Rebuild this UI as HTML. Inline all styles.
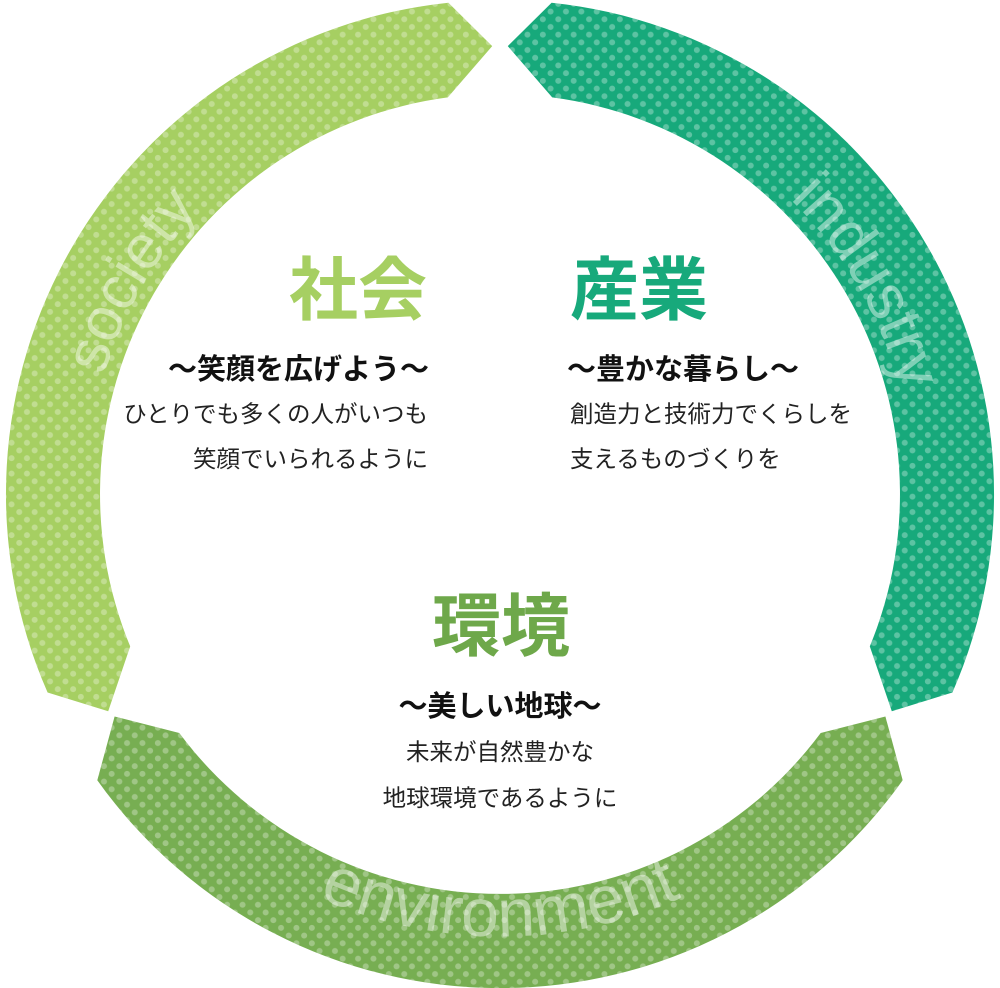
<!DOCTYPE html>
<html><head><meta charset="utf-8"><style>
html,body{margin:0;padding:0;background:#fff;}
svg{display:block;}
</style></head><body>
<svg width="1000" height="988" viewBox="0 0 1000 988" xmlns="http://www.w3.org/2000/svg">
<defs>
<pattern id="dots" width="15.4" height="15.4" patternUnits="userSpaceOnUse">
<circle cx="3.85" cy="3.85" r="3" fill="#fff" fill-opacity="0.3"/>
<circle cx="11.55" cy="11.55" r="3" fill="#fff" fill-opacity="0.3"/>
</pattern>
<path id="ps" d="M88.3,566.6 A412,412 0 0 1 357.0,101.2" transform="translate(500 494) scale(0.9856) translate(-500 -494)"/>
<path id="pi" d="M643,101.2 A412,412 0 0 1 911.7,566.6" transform="translate(500 494) scale(0.9856) translate(-500 -494)"/>
<path id="pe" d="M120.7,713 A438,438 0 0 0 879.3,713" transform="translate(500 494) scale(1.01) translate(-500 -494)"/>
</defs>
<path d="M47.6,692.5 A494,494 0 0 1 448.4,2.7 L492.2,46.1 L447.8,97.4 A400,400 0 0 0 130.2,646.4 L108.2,711.2 Z" fill="#a6cf62"/>
<path d="M47.6,692.5 A494,494 0 0 1 448.4,2.7 L492.2,46.1 L447.8,97.4 A400,400 0 0 0 130.2,646.4 L108.2,711.2 Z" fill="url(#dots)"/>
<path d="M952.4,692.5 A494,494 0 0 0 551.6,2.7 L507.8,46.1 L552.2,97.4 A400,400 0 0 1 869.8,646.4 L891.8,711.2 Z" fill="#17a97b"/>
<path d="M952.4,692.5 A494,494 0 0 0 551.6,2.7 L507.8,46.1 L552.2,97.4 A400,400 0 0 1 869.8,646.4 L891.8,711.2 Z" fill="url(#dots)"/>
<path d="M97.3,780.2 A494,494 0 0 0 902.7,780.2 L885.4,716.5 L820.7,733 A400,400 0 0 1 179.3,733 L114.6,716.5 Z" fill="#77ae52"/>
<path d="M97.3,780.2 A494,494 0 0 0 902.7,780.2 L885.4,716.5 L820.7,733 A400,400 0 0 1 179.3,733 L114.6,716.5 Z" fill="url(#dots)"/>

<g font-family="Liberation Sans, sans-serif" fill="#fff" fill-opacity="0.45" text-anchor="middle">
<text font-size="62"><textPath href="#ps" startOffset="50%">society</textPath></text>
<text font-size="64"><textPath href="#pi" startOffset="50%">industry</textPath></text>
<text font-size="68"><textPath href="#pe" startOffset="50%">environment</textPath></text>
</g>

<g font-family="Liberation Sans, Noto Sans CJK JP, sans-serif">
<text x="427" y="314" font-size="69" font-weight="bold" fill="#a6cf62" text-anchor="end">社会</text>
<text x="429" y="379" font-size="29" font-weight="bold" fill="#111" text-anchor="end">〜笑顔を広げよう〜</text>
<text x="428" y="422" font-size="23.5" fill="#222" text-anchor="end">ひとりでも多くの人がいつも</text>
<text x="428" y="467" font-size="23.5" fill="#222" text-anchor="end">笑顔でいられるように</text>

<text x="570" y="314" font-size="69" font-weight="bold" fill="#17a97b">産業</text>
<text x="567" y="379" font-size="29" font-weight="bold" fill="#111">〜豊かな暮らし〜</text>
<text x="570" y="422" font-size="23.5" fill="#222">創造力と技術力でくらしを</text>
<text x="570" y="467" font-size="23.5" fill="#222">支えるものづくりを</text>

<text x="501" y="650" font-size="69" font-weight="bold" fill="#6ea84a" text-anchor="middle">環境</text>
<text x="500" y="716" font-size="29" font-weight="bold" fill="#111" text-anchor="middle">〜美しい地球〜</text>
<text x="500" y="760" font-size="23.5" fill="#222" text-anchor="middle">未来が自然豊かな</text>
<text x="500" y="806" font-size="23.5" fill="#222" text-anchor="middle">地球環境であるように</text>
</g>
</svg>
</body></html>
